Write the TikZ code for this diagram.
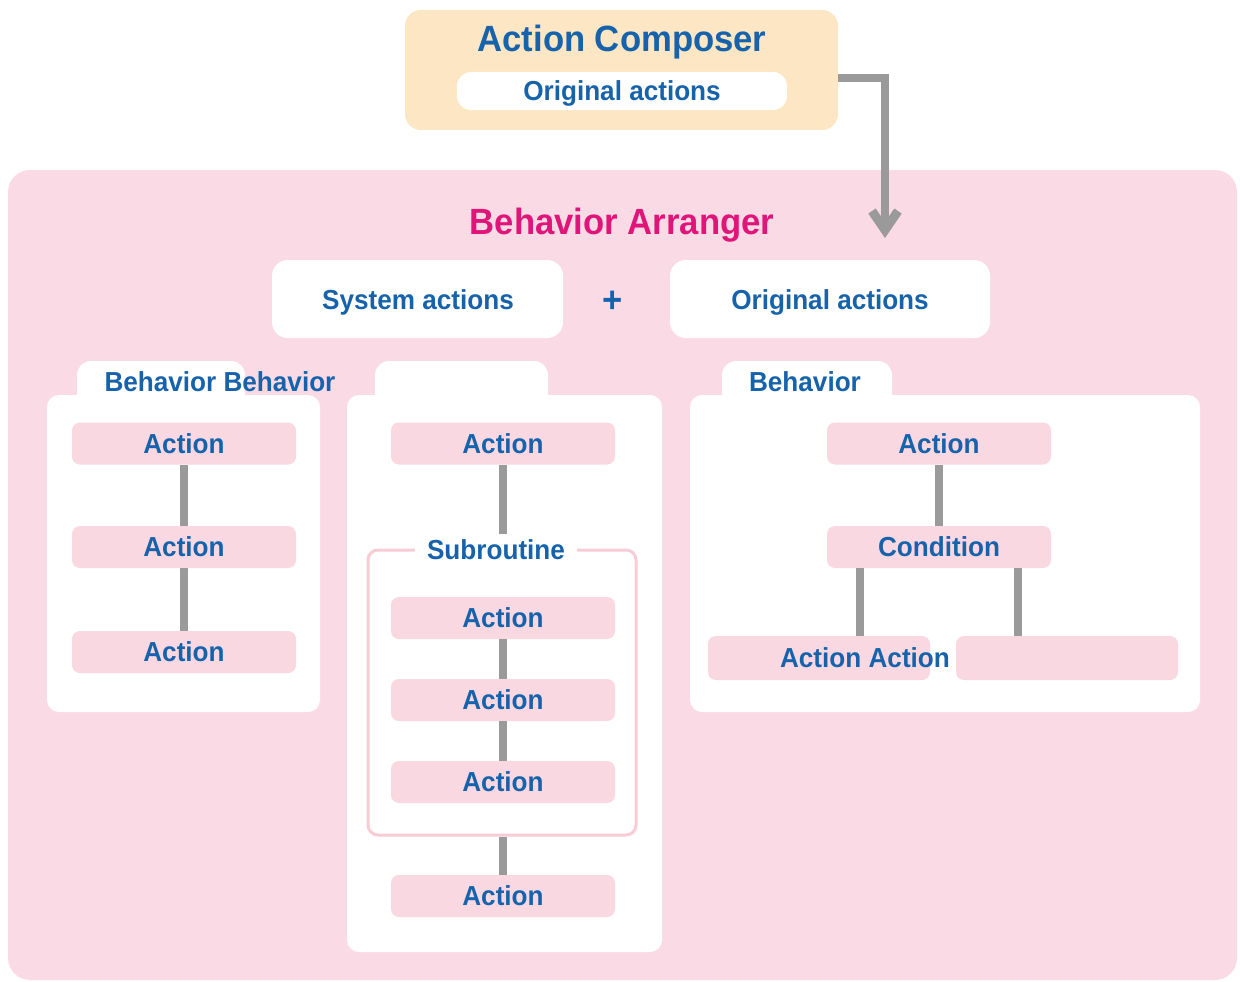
\documentclass[tikz,border=0pt]{standalone}
\usepackage{fontspec}
\setmainfont{Liberation Sans}[FakeStretch=0.95]
\usetikzlibrary{arrows.meta}

\definecolor{txtblue}{HTML}{1763AB}
\definecolor{titlemagenta}{HTML}{E0157A}
\definecolor{bgpink}{HTML}{FADBE5}
\definecolor{boxpink}{HTML}{F9D8E2}
\definecolor{framepink}{HTML}{F7CCD4}
\definecolor{composerorange}{HTML}{FCE6C3}
\definecolor{linkgray}{HTML}{9A9A9A}

\begin{document}
\begin{tikzpicture}[x=1pt, y=-1pt,
	bigtext/.style={text=txtblue, font=\bfseries\fontsize{36.5}{40}\selectfont, text height=26pt, text depth=0pt},
	smalltext/.style={text=txtblue, font=\bfseries\fontsize{27.5}{30}\selectfont, text height=19.7pt, text depth=0pt, inner sep=2pt},
	actbox/.style={fill=boxpink, rounded corners=8pt, minimum width=224pt, minimum height=42pt, inner sep=0pt, smalltext},
	panel/.style={fill=white, rounded corners=16pt, inner sep=0pt},
	link/.style={draw=linkgray, line width=8pt},
]
	\useasboundingbox (0,0) rectangle (1240,982);
	% composer on top
	\node[fill=composerorange, rounded corners=16pt, minimum width=433pt, minimum height=120pt] (composer) at (621.5,70) {};
	\node[bigtext] (composertitle) at (622,39) {Action Composer};
	\node[panel, rounded corners=14pt, minimum width=330pt, minimum height=38pt, smalltext] (composeractions) at (622,91) {Original actions};
	% arranger area
	\node[fill=bgpink, rounded corners=22pt, minimum width=1229pt, minimum height=810pt] (arranger) at (622.5,575) {};
	\node[bigtext, text=titlemagenta] (arrangertitle) at (622,221) {Behavior Arranger};
	\coordinate (arrowend) at (885,238);
	\draw[link, -{Straight Barb[length=19pt, width=26pt, line width=9pt]}] ([yshift=-8pt]composer.east) -| (arrowend);
	\node[panel, minimum width=291pt, minimum height=78pt] (system) at (417.5,299) {};
	\node[smalltext] at (418,300) {System actions};
	\node[bigtext, text height=24pt] (plus) at (613,300) {+};
	\node[panel, minimum width=320pt, minimum height=78pt] (original) at (830,299) {};
	\node[smalltext] at (830,300) {Original actions};

	% folders
	\node[panel, rounded corners=14pt, minimum width=168pt, minimum height=50pt] (tabone) at (161,386) {};
	\node[panel, rounded corners=12pt, minimum width=273pt, minimum height=317pt] (folderone) at (183.5,553.5) {};
	\node[panel, rounded corners=14pt, minimum width=173pt, minimum height=50pt] (tabtwo) at (461.5,386) {};
	\node[panel, rounded corners=12pt, minimum width=315pt, minimum height=557pt] (foldertwo) at (504.5,673.5) {};
	\node[panel, rounded corners=14pt, minimum width=170pt, minimum height=50pt] (tabthree) at (807,386) {};
	\node[panel, rounded corners=12pt, minimum width=510pt, minimum height=317pt] (folderthree) at (945,553.5) {};
	\node[smalltext] (labelone) at (220,382) {Behavior Behavior};
	\node[smalltext] (labelthree) at (805,382) {Behavior};

	% first folder
	\node[actbox] (a1) at (184,443.5) {Action};
	\node[actbox] (a2) at (184,547) {Action};
	\node[actbox] (a3) at (184,652) {Action};
	\draw[link] (a1) -- (a2);
	\draw[link] (a2) -- (a3);

	% second folder
	\node[actbox] (b1) at (503,443.5) {Action};
	\node[draw=framepink, line width=3pt, rounded corners=10pt, minimum width=268pt, minimum height=285pt] (subframe) at (502,692.5) {};
	\node[smalltext, fill=white, inner xsep=12pt, inner ysep=6pt] (subtitle) at (496,550) {Subroutine};
	\node[actbox] (s1) at (503,618) {Action};
	\node[actbox] (s2) at (503,700) {Action};
	\node[actbox] (s3) at (503,782) {Action};
	\node[actbox] (b2) at (503,896) {Action};
	\draw[link] (b1) -- (b1 |- subtitle.north);
	\draw[link] (s1) -- (s2);
	\draw[link] (s2) -- (s3);
	\draw[link] (b2.north |- subframe.south) -- (b2);

	% third folder
	\node[actbox] (c1) at (939,443.5) {Action};
	\node[actbox] (cond) at (939,547) {Condition};
	\node[actbox, minimum width=222pt, minimum height=44pt] (d1) at (819,658) {};
	\node[actbox, minimum width=222pt, minimum height=44pt] (d2) at (1067,658) {};
	\node[smalltext] (d1text) at (865,658) {Action Action};
	\draw[link] (c1) -- (cond);
	\draw[link] ([xshift=-79pt]cond.south) -- ([xshift=-79pt]cond.south |- d1.north);
	\draw[link] ([xshift=79pt]cond.south) -- ([xshift=79pt]cond.south |- d2.north);
\end{tikzpicture}
\end{document}
